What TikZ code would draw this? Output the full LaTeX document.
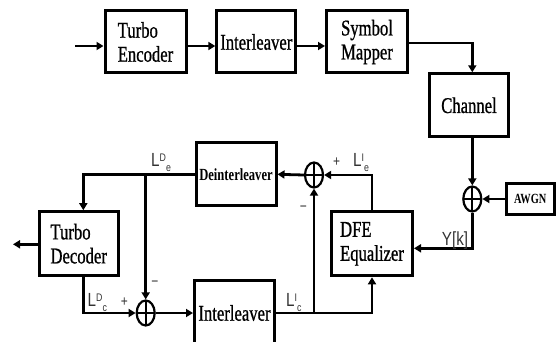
\documentclass[tikz,border=0pt]{standalone}
\usepackage{fontspec}
\setmainfont{Liberation Serif}
\newfontfamily\boxfont[FakeStretch=0.74,FakeBold=0.8]{Liberation Serif}
\newfontfamily\sboxfont[FakeStretch=0.74]{Liberation Serif}
\newfontfamily\lblfont[FakeStretch=0.8]{Liberation Sans}
\usetikzlibrary{arrows.meta,shapes.geometric}
\newcommand\Llab[2]{L\raisebox{5.5pt}{\fontsize{11}{11}\selectfont #1}\raisebox{-4.5pt}{\fontsize{11}{11}\selectfont #2}}
\tikzset{
  blk/.style={draw, line width=3pt, minimum width=80pt, minimum height=63pt, inner sep=0pt,
    align=left, font=\boxfont\fontsize{22.5}{24}\selectfont},
  sblk/.style={draw, line width=3pt, inner sep=0pt, font=\sboxfont\bfseries\fontsize{17}{19}\selectfont},
  sumnode/.style={draw, ellipse, line width=2.2pt, minimum width=18pt, minimum height=25pt, inner sep=0pt,
    path picture={\draw[line width=2.2pt] (path picture bounding box.north) -- (path picture bounding box.south)
      (path picture bounding box.west) -- (path picture bounding box.east);}},
  conn/.style={line width=2.8pt},
  arr/.style={conn, -{Triangle[length=7pt,width=8pt]}},
  lbl/.style={font=\lblfont\fontsize{19}{19}\selectfont, text=black!80, inner sep=0pt},
  sgn/.style={font=\lblfont\fontsize{15}{15}\selectfont, text=black!80, inner sep=0pt}
}
\begin{document}
\begin{tikzpicture}[x=1pt,y=-1pt]
\useasboundingbox (0,0) rectangle (557,342);
\clip (0,0) rectangle (557,342);
% top row
\node[blk, minimum width=81pt, minimum height=62pt] (enc) at (145.5,42) {Turbo\\Encoder};
\node[blk, minimum width=79pt, minimum height=62pt] (int1) at (256.3,42) {Interleaver};
\node[blk, minimum width=81pt, minimum height=62pt] (map) at (367,42) {Symbol\\Mapper};
\node[blk, minimum width=79pt, minimum height=63pt] (chan) at (469,105.3) {Channel};
\node[sumnode] (sum3) at (472.3,199) {};
\node[sblk, minimum width=48pt, minimum height=31pt, font=\sboxfont\bfseries\fontsize{14}{16}\selectfont] (awgn) at (530.2,199) {AWGN};
% lower part
\node[blk, minimum width=81pt, minimum height=64pt] (dfe) at (372,243.8) {DFE\\Equalizer};
\node[sblk, minimum width=80pt, minimum height=63pt] (deint) at (236,174.3) {Deinterleaver};
\node[sumnode] (sum1) at (314,175) {};
\node[blk, minimum width=79pt, minimum height=64pt] (dec) at (78.7,243.7) {Turbo\\Decoder};
\node[blk, minimum width=80pt, minimum height=66pt] (int2) at (234.5,313) {Interleaver};
\node[sumnode] (sum2) at (145.7,313) {};
% coordinates
\coordinate (in) at (75,46);
\coordinate (c1) at (472.3,43);
\coordinate (c2) at (472.3,248.3);
\coordinate (c4) at (83.3,174.3);
\coordinate (out) at (13,244.3);
% connectors
\draw[arr] (in) -- (in -| enc.west);
\draw[arr] (enc.east |- in) -- (int1.west |- in);
\draw[arr] (int1.east |- in) -- (map.west |- in);
\draw[arr] (map.east |- c1) -- (c1) -- (c1 |- chan.north);
\draw[arr] (chan.south -| sum3) -- (sum3.north);
\draw[arr] (awgn.west) -- (sum3.east);
\draw[arr] (sum3.south) -- (c2) -- (c2 -| dfe.east);
\draw[arr] (dfe.north) -- (dfe.north |- sum1) -- (sum1.east);
\draw[arr] (sum1.west) -- (deint.east);
\draw[arr] (deint.west |- c4) -- (c4) -- (c4 |- dec.north);
\draw[arr] (sum2 |- c4) -- (sum2.north);
\draw[arr] (dec.west |- out) -- (out);
\draw[arr] (c4 |- dec.south) -- (c4 |- sum2) -- (sum2.west);
\draw[arr] (sum2.east) -- (int2.west |- sum2);
\draw[arr] (int2.east |- sum2) -- (dfe.south |- sum2) -- (dfe.south);
\draw[arr] (sum1 |- sum2) -- (sum1.south);
% labels
\node[lbl, anchor=base west] (lde) at (151,167) {\Llab{D}{e}};
\node[lbl, anchor=base west] (lie) at (353,167) {\Llab{I}{e}};
\node[lbl, anchor=base west] (ldc) at (87.5,306.7) {\Llab{D}{c}};
\node[lbl, anchor=base west] (lic) at (286,306.7) {\Llab{I}{c}};
\node[lbl, font=\lblfont\fontsize{19}{19}\selectfont] (yk) at (455,241) {Y[k]};
\node[sgn] (p1) at (336.7,161.7) {+};
\node[sgn] (m1) at (303.3,208.3) {\textminus};
\node[sgn] (p2) at (124.3,301.7) {+};
\node[sgn] (m2) at (155,284) {\textminus};
\end{tikzpicture}
\end{document}
